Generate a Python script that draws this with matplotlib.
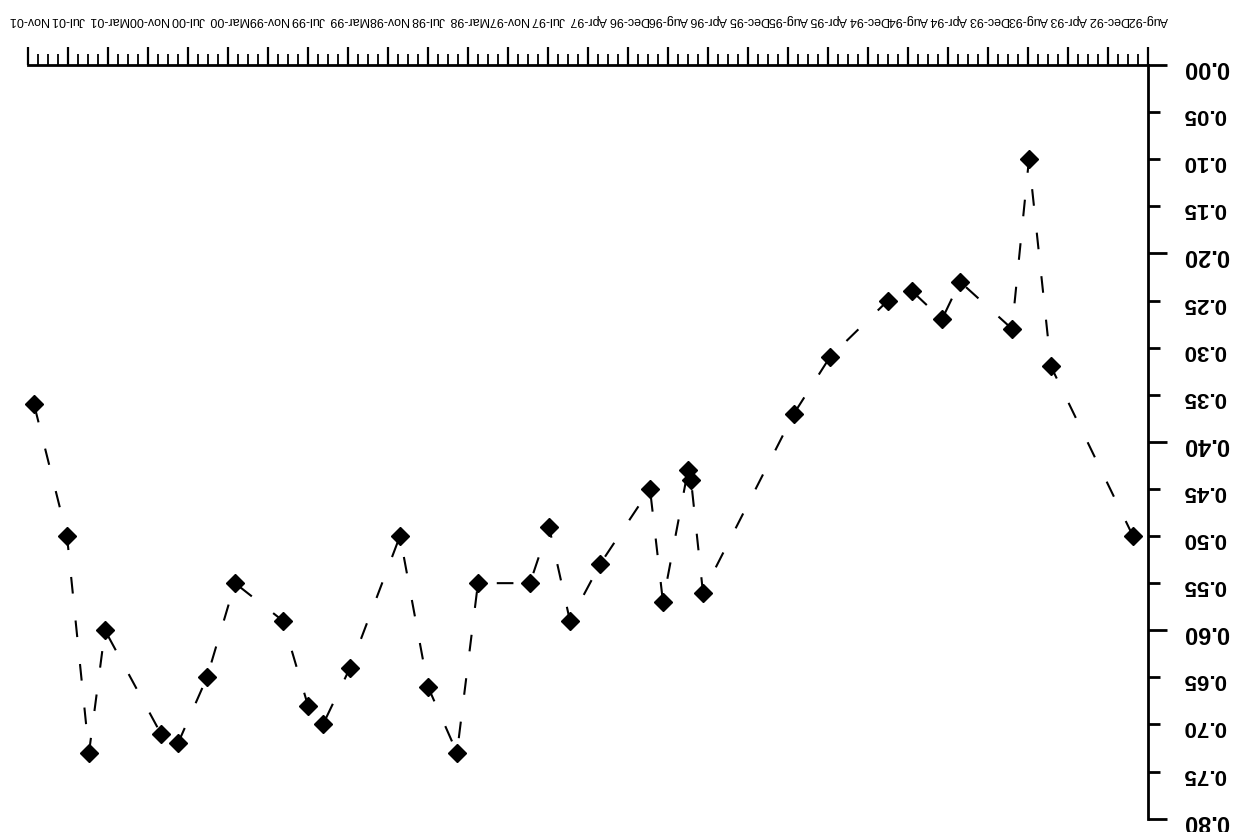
import matplotlib
matplotlib.use("Agg")
import matplotlib.pyplot as plt
from matplotlib.ticker import FixedLocator, FixedFormatter, FuncFormatter

plt.rcParams["font.family"] = ["Liberation Sans", "DejaVu Sans"]

# Axis labels every four months, starting Aug-92
tick_labels = ["Aug-92", "Dec-92", "Apr-93", "Aug-93", "Dec-93", "Apr-94", "Aug-94",
               "Dec-94", "Apr-95", "Aug-95", "Dec-95", "Apr-96", "Aug-96", "Dec-96",
               "Apr-97", "Jul-97", "Nov-97", "Mar-98", "Jul-98", "Nov-98", "Mar-99",
               "Jul-99", "Nov-99", "Mar-00", "Jul-00", "Nov-00", "Mar-01", "Jul-01",
               "Nov-01"]

# Observation time in months after Aug-92, and the observed value
months = [1.5, 9.7, 11.9, 13.6, 18.8, 20.6, 23.6, 26.0, 31.8, 35.4,
          44.5, 45.7, 46.0, 48.5, 49.8, 54.8, 57.8, 59.9, 61.8, 67.0,
          69.1, 72.0, 74.8, 79.8, 82.5, 84.0, 86.5, 91.3, 94.1, 97.0,
          98.7, 104.3, 105.9, 108.1, 111.4]
values = [0.50, 0.32, 0.10, 0.28, 0.23, 0.27, 0.24, 0.25, 0.31, 0.37,
          0.56, 0.44, 0.43, 0.57, 0.45, 0.53, 0.59, 0.49, 0.55, 0.55,
          0.73, 0.66, 0.50, 0.64, 0.70, 0.68, 0.59, 0.55, 0.65, 0.72,
          0.71, 0.60, 0.73, 0.50, 0.36]

y_major = [0.0, 0.2, 0.4, 0.6, 0.8]
y_minor = [0.05, 0.10, 0.15, 0.25, 0.30, 0.35, 0.45, 0.50, 0.55, 0.65, 0.70, 0.75]

fig = plt.figure(figsize=(12.44, 8.32), dpi=100)
ax = fig.add_axes([0.0225, 0.016, 0.9003, 0.9059])

ax.plot(months, values, color="black", lw=1.5, linestyle=(0, (8, 13)),
        marker="D", ms=9.5, mfc="black", mec="black", clip_on=False)

# The whole chart is shown turned half a turn
ax.set_xlim(112, 0)
ax.set_ylim(0.8, 0.0)

ax.xaxis.tick_top()
ax.xaxis.set_major_locator(FixedLocator(range(0, 113, 4)))
ax.xaxis.set_major_formatter(FixedFormatter(tick_labels))
ax.xaxis.set_minor_locator(FixedLocator([m for m in range(0, 113) if m % 4]))
ax.tick_params(axis="x", which="major", direction="out", length=13, width=1.6,
               pad=15, labelsize=9, labelrotation=180, colors="black")
ax.tick_params(axis="x", which="minor", direction="out", length=8, width=1.3)

ax.yaxis.tick_right()
ax.yaxis.set_major_locator(FixedLocator(y_major))
ax.yaxis.set_minor_locator(FixedLocator(y_minor))
fmt = FuncFormatter(lambda v, p: f"{v:.2f}")
ax.yaxis.set_major_formatter(fmt)
ax.yaxis.set_minor_formatter(fmt)
ax.tick_params(axis="y", which="major", direction="out", length=14, width=2,
               pad=11, labelsize=17, labelrotation=180)
ax.tick_params(axis="y", which="minor", direction="out", length=8.5, width=2,
               pad=16.5, labelsize=16, labelrotation=180)
for lbl in ax.get_yticklabels(which="both"):
    lbl.set_fontweight("bold")

for side in ("left", "bottom"):
    ax.spines[side].set_visible(False)
for side in ("top", "right"):
    ax.spines[side].set_linewidth(2)

fig.savefig("out.png", dpi=100)
